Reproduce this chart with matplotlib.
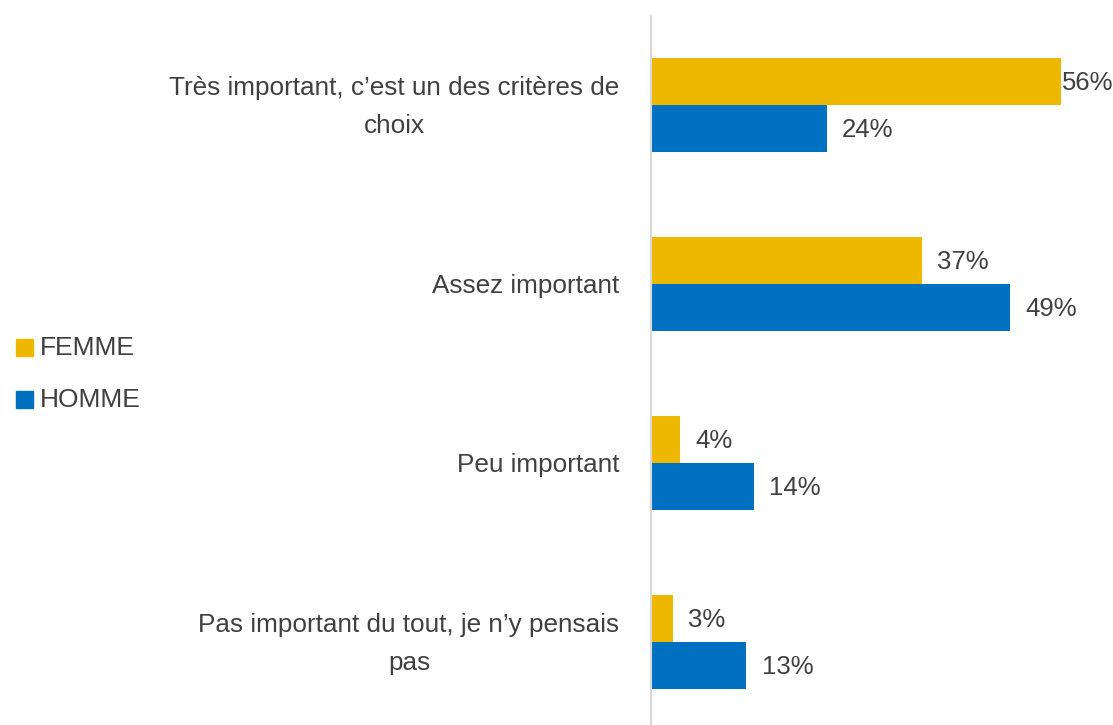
import matplotlib
matplotlib.use("Agg")
from matplotlib import pyplot as plt
from matplotlib.patches import Rectangle

categories = [
    "Très important, c\u2019est un des critères de\nchoix",
    "Assez important",
    "Peu important",
    "Pas important du tout, je n\u2019y pensais\npas",
]
femme = [56, 37, 4, 3]
homme = [24, 49, 14, 13]
series_names = ["FEMME", "HOMME"]
colors = ["#EFB800", "#0070C0"]
text_color = "#404040"

plt.rcParams["font.family"] = ["Liberation Sans", "DejaVu Sans"]

fig = plt.figure(figsize=(11.13, 7.25), dpi=100)
W, H = 1113, 725
ax = fig.add_axes([651 / W, 0, 1 - 651 / W, (725 - 15.5) / H])

y = list(range(len(categories)))
h = 0.263
ax.barh([v - h / 2 for v in y], femme, height=h, color=colors[0])
ax.barh([v + h / 2 for v in y], homme, height=h, color=colors[1])

ax.set_xlim(0, 63.1)
ax.set_ylim(3.464, -0.5)

for vals, off in ((femme, -h / 2), (homme, h / 2)):
    for i, v in enumerate(vals):
        pad = 2.1 if v < 50 else 0.1
        ax.text(v + pad, i + off + 0.01, f"{v}%", va="center", ha="left",
                fontsize=18.5, color=text_color, clip_on=False)

for i, c in enumerate(categories):
    ax.text(-4.3, i + 0.01, c, ha="right", va="center", multialignment="center",
            fontsize=18.8, linespacing=1.75, color=text_color, clip_on=False)

for s in ("top", "right", "bottom"):
    ax.spines[s].set_visible(False)
ax.spines["left"].set_color("#D9D9D9")
ax.spines["left"].set_linewidth(1.5)
ax.set_xticks([])
ax.set_yticks([])

# legend
for k, (name, col) in enumerate(zip(series_names, colors)):
    yc = 348 + k * 52
    fig.patches.append(Rectangle((16 / W, 1 - (yc + 8.5) / H), 17 / W, 17 / H,
                                 transform=fig.transFigure, color=col))
    fig.text(40 / W, 1 - yc / H, name, ha="left", va="center",
             fontsize=19, color=text_color)

fig.savefig("out.png", dpi=100)
